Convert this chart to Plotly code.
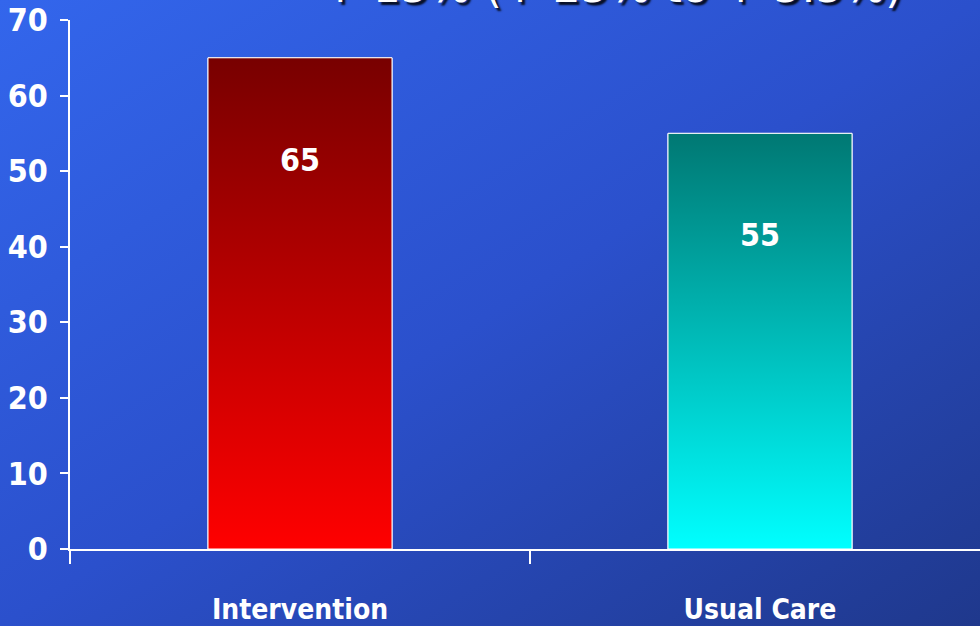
import base64
import plotly.graph_objects as go

# ---- data ----
categories = ["Intervention", "Usual Care"]
values = [65, 55]
value_labels = ["65", "55"]
y_ticks = [0, 10, 20, 30, 40, 50, 60, 70]
title_text = "↑ 15% (↑ 25% to ↑ 5.5%)"

# ---- style ----
W, H = 980, 626
ML, MR, MT, MB = 70, 0, 20, 77
bar_width = 0.4
top_colors = ["#780000", "#007873"]
bottom_colors = ["#ff0000", "#00ffff"]
FONT = "Liberation Sans Narrow, DejaVu Sans Condensed, Roboto, sans-serif"

pw, ph = W - ML - MR, H - MT - MB

svg = (
    f'<svg xmlns="http://www.w3.org/2000/svg" width="{W}" height="{H}" viewBox="0 0 {W} {H}" preserveAspectRatio="none">'
    '<defs><linearGradient id="g" x1="0" y1="0" x2="1" y2="1">'
    '<stop offset="0" stop-color="#3366EC"/>'
    '<stop offset="0.5" stop-color="#2B50CC"/>'
    '<stop offset="1" stop-color="#1F388C"/>'
    '</linearGradient></defs>'
    f'<rect x="0" y="0" width="{W}" height="{H}" fill="url(#g)"/></svg>'
)
bg_src = "data:image/svg+xml;base64," + base64.b64encode(svg.encode()).decode()

fig = go.Figure()

idx = list(range(len(categories)))
for i, v in zip(idx, values):
    xs = [i - bar_width / 2, i - bar_width / 2, i + bar_width / 2, i + bar_width / 2, i - bar_width / 2]
    ys = [0, v, v, 0, 0]
    fig.add_trace(go.Scatter(
        x=xs, y=ys, mode="lines", fill="toself",
        line=dict(color="white", width=1),
        fillgradient=dict(type="vertical",
                          colorscale=[[0, bottom_colors[i]], [1, top_colors[i]]]),
        hoverinfo="skip", showlegend=False,
    ))

fig.add_trace(go.Bar(
    x=idx, y=values, width=bar_width,
    marker=dict(color="rgba(0,0,0,0)", line=dict(color="white", width=1)),
    showlegend=False,
))

for i, v, t in zip(idx, values, value_labels):
    fig.add_annotation(x=i, y=v, text=t, showarrow=False, yshift=-102,
                       yanchor="middle",
                       font=dict(family=FONT, size=32, weight="bold", color="white"))

fig.add_annotation(
    x=(612 - ML) / pw, y=1, xref="paper", yref="paper", xanchor="center", yanchor="bottom",
    text=title_text, showarrow=False, yshift=6,
    font=dict(family="Comic Sans MS, DejaVu Sans, sans-serif", size=44, color="white",
              shadow="3px 3px 2px rgba(0,0,0,0.85)"),
)

fig.add_layout_image(dict(
    source=bg_src, xref="paper", yref="paper",
    x=-ML / pw, y=1 + MT / ph, sizex=W / pw, sizey=H / ph,
    xanchor="left", yanchor="top", sizing="stretch", layer="below",
))

fig.update_layout(
    template="none",
    width=W, height=H,
    margin=dict(l=ML, r=MR, t=MT, b=MB, autoexpand=False),
    paper_bgcolor="#2B50CC", plot_bgcolor="rgba(0,0,0,0)",
    showlegend=False,
    font=dict(family=FONT, color="white"),
    xaxis=dict(
        type="linear", range=[-0.5, -0.5 + pw / 460], automargin=False,
        tickmode="array", tickvals=idx, ticktext=categories,
        ticks="", showgrid=False, zeroline=False,
        showline=True, linecolor="white", linewidth=1.5,
        tickfont=dict(family=FONT, size=28, weight="bold", color="white"),
        ticklabelstandoff=35, ticklabeloverflow="allow",
        minor=dict(tickmode="array", tickvals=[-0.5, 0.5], ticks="outside",
                   ticklen=13, tickwidth=1.5, tickcolor="white", showgrid=False),
        fixedrange=True,
    ),
    yaxis=dict(
        range=[0, 70], tickmode="array", tickvals=y_ticks, automargin=False,
        ticks="outside", ticklen=8, tickwidth=1.5, tickcolor="white",
        showline=True, linecolor="white", linewidth=1.5,
        showgrid=False, zeroline=False,
        tickfont=dict(family=FONT, size=32, weight="bold", color="white"),
        ticklabelstandoff=6, ticklabeloverflow="allow",
        fixedrange=True,
    ),
)

fig.write_html(
    "out.html",
    config={"displayModeBar": False},
    post_script="document.body.style.margin='0';document.body.style.overflow='hidden';",
)
